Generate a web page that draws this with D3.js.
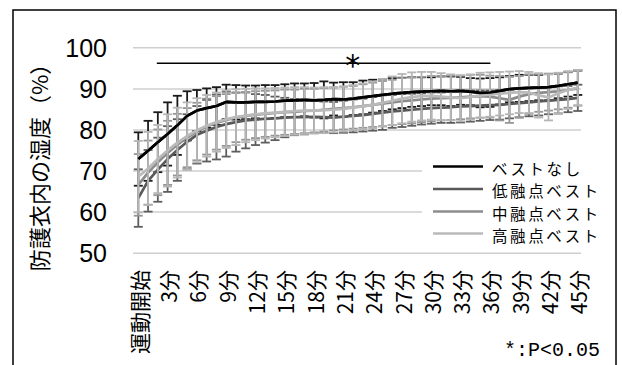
<!DOCTYPE html>
<html><head><meta charset="utf-8">
<script src="https://cdn.jsdelivr.net/npm/d3@7"></script>
<style>body{margin:0;background:#fff;}svg{display:block;}</style>
</head><body>
<svg id="c" width="622" height="365"></svg>
<script>
const minutes = d3.range(0, 46);
const tickMinutes = [0,3,6,9,12,15,18,21,24,27,30,33,36,39,42,45];
const tickLabels = ["運動開始","3分","6分","9分","12分","15分","18分","21分","24分","27分","30分","33分","36分","39分","42分","45分"];
const yTicks = [50,60,70,80,90,100];
const seriesNames = ["ベストなし","低融点ベスト","中融点ベスト","高融点ベスト"];

const noneMean = [72.8,74.8,76.9,78.9,81.0,83.3,84.6,85.2,85.7,86.7,86.6,86.6,86.7,86.7,86.8,87.0,87.1,87.2,87.1,87.2,87.4,87.3,87.5,87.8,88.1,88.4,88.7,88.9,89.1,89.2,89.3,89.4,89.3,89.4,89.2,88.9,89.0,89.4,89.8,90.0,90.1,90.2,90.3,90.6,91.0,91.4];
const lowMean  = [63.3,67.5,70.2,72.8,75.0,77.0,78.7,79.7,80.6,81.3,81.8,82.2,82.4,82.6,82.7,82.9,83.0,83.0,83.1,83.0,82.9,83.1,83.3,83.5,83.8,84.1,84.4,84.6,84.8,85.0,85.2,85.3,85.4,85.6,85.7,85.8,85.9,86.0,86.2,86.4,86.6,86.8,87.0,87.2,87.4,87.7];
const midMean  = [66.5,69.5,72.0,74.3,76.3,78.0,79.5,80.7,81.6,82.3,82.9,83.3,83.6,83.8,84.0,84.2,84.3,84.5,84.6,84.8,85.0,85.2,85.4,85.7,86.0,86.3,86.6,86.9,87.1,87.3,87.5,87.6,87.7,87.8,88.0,88.1,88.0,87.6,87.2,88.0,88.6,88.9,89.1,89.3,89.6,90.0];
const highMean = [68.5,70.5,72.8,74.9,76.8,78.4,79.8,80.9,81.8,82.5,83.0,83.4,83.7,83.9,84.1,84.3,84.5,84.6,84.6,84.7,84.8,85.0,85.3,85.6,86.0,86.5,87.0,87.5,87.9,88.1,88.2,88.0,87.8,87.6,87.9,88.3,88.5,88.7,88.9,89.1,89.0,88.3,87.8,88.8,89.6,90.2];

const noneSD = [6.5,7.3,7.3,7.7,7.2,6.0,5.0,4.8,4.6,4.2,4.2,4.1,4.0,4.1,4.0,4.0,4.1,4.0,4.2,4.5,4.0,4.2,4.0,4.1,4.0,3.9,3.8,3.7,3.6,3.5,3.4,3.5,3.6,3.4,3.3,3.5,3.5,3.3,3.2,3.3,3.2,3.1,3.2,3.0,3.0,3.0];
const lowSD  = [7.0,7.5,7.8,8.0,7.5,6.7,7.0,7.5,7.9,7.9,7.2,6.8,6.2,5.8,5.3,4.8,4.4,4.2,4.0,3.8,3.8,3.9,4.0,4.0,4.1,4.2,4.0,4.0,3.9,3.8,3.8,3.7,3.8,3.9,3.8,3.7,3.6,3.6,3.5,3.5,3.4,3.4,3.3,3.3,3.2,3.2];
const midSD  = [7.5,7.8,8.0,7.8,7.5,7.2,7.0,6.8,6.5,6.3,6.0,5.8,5.7,5.6,5.5,5.5,5.4,5.4,5.3,5.3,5.2,5.2,5.2,5.3,5.4,5.5,5.5,5.6,5.6,5.5,5.5,5.4,5.4,5.3,5.3,5.2,5.1,5.4,5.6,5.0,4.8,4.6,4.5,4.4,4.3,4.2];
const highSD = [8.7,8.9,8.3,8.8,8.5,8.2,7.8,7.5,7.2,7.0,6.8,6.5,6.3,6.1,6.0,5.9,5.8,5.7,5.6,5.6,5.5,5.5,5.5,5.6,5.7,5.8,5.9,6.0,6.0,5.9,5.8,5.7,5.6,5.6,5.5,5.5,5.4,5.3,5.2,5.1,5.0,5.4,5.6,5.0,4.6,4.3];

const sigStart = 2, sigEnd = 36, sigMark = 22;
const noteText = "*:P<0.05";

const colors = ["#000000","#595959","#8c8c8c","#bababa"];
const barColors = ["#1a1a1a","#5e5e5e","#969696","#b6b6b6"];
const series = [
  {name:seriesNames[0], mean:noneMean, sd:noneSD, color:colors[0], bar:barColors[0]},
  {name:seriesNames[1], mean:lowMean, sd:lowSD, color:colors[1], bar:barColors[1]},
  {name:seriesNames[2], mean:midMean, sd:midSD, color:colors[2], bar:barColors[2]},
  {name:seriesNames[3], mean:highMean, sd:highSD, color:colors[3], bar:barColors[3]}
];

const svg = d3.select("#c");
const x = d3.scalePoint().domain(minutes).range([138.3, 577.8]);
const y = d3.scaleLinear().domain([50,100]).range([252.7, 47.3]);
const gridX0 = 133, gridX1 = 581;

// outer frame
svg.append("rect").attr("x",13).attr("y",10).attr("width",603).attr("height",370)
  .attr("fill","#fff").attr("stroke","#000").attr("stroke-width",1.5);

// gridlines
const yAxis = d3.axisLeft(y).tickValues(yTicks).tickSize(-(gridX1-gridX0)).tickFormat(d=>d);
const gy = svg.append("g").attr("transform",`translate(${gridX0},0)`).call(yAxis);
gy.select(".domain").remove();
gy.selectAll(".tick line").attr("stroke","#cfcfcf").attr("stroke-width",1.5);
gy.selectAll(".tick text").attr("x",107-gridX0).attr("dy","0.36em")
  .attr("font-family","'Liberation Sans', Arial, sans-serif").attr("font-size",25).attr("fill","#000");

// y title
svg.append("text").attr("transform","translate(38,162) rotate(-90)")
  .attr("text-anchor","middle").attr("dominant-baseline","central")
  .attr("font-family","'Noto Sans CJK JP', sans-serif").attr("font-size",22).attr("fill","#000")
  .text("防護衣内の湿度（%）");

// x axis labels
const xAxis = d3.axisBottom(x).tickValues(tickMinutes).tickSize(0)
  .tickFormat(d => tickLabels[tickMinutes.indexOf(d)]);
const gx = svg.append("g").attr("transform","translate(0,270)").call(xAxis);
gx.select(".domain").remove();
gx.selectAll(".tick text").attr("transform","rotate(-90)").attr("x",0).attr("y",0).attr("dy",null)
  .attr("text-anchor","end").attr("dominant-baseline","central")
  .attr("font-family","'Liberation Sans Narrow','Noto Sans CJK JP', sans-serif").attr("font-size",21).attr("fill","#000");

// series
const line = d3.line().x((d,i)=>x(minutes[i])).y(d=>y(d));
function drawBars(s){
  const g = svg.append("g").attr("stroke",s.bar).attr("stroke-width",1.8).attr("fill","none");
  minutes.forEach((m,i)=>{
    const cx = x(m), top = y(s.mean[i]+s.sd[i]), bot = y(s.mean[i]-s.sd[i]);
    g.append("line").attr("x1",cx).attr("x2",cx).attr("y1",top).attr("y2",bot);
    g.append("line").attr("x1",cx-4.5).attr("x2",cx+4.5).attr("y1",top).attr("y2",top);
    g.append("line").attr("x1",cx-4.5).attr("x2",cx+4.5).attr("y1",bot).attr("y2",bot);
  });
}
function drawLine(s){
  svg.append("path").datum(s.mean).attr("d",line).attr("fill","none")
    .attr("stroke",s.color).attr("stroke-width",2.7).attr("stroke-linejoin","round");
}
series.forEach(s=>{ drawBars(s); drawLine(s); });
drawLine(series[0]);

// significance
svg.append("line").attr("x1",x(sigStart)-1).attr("x2",x(sigEnd)+0.5).attr("y1",63.3).attr("y2",63.3)
  .attr("stroke","#000").attr("stroke-width",1.5);
svg.append("text").attr("x",x(sigMark)-0.5).attr("y",76).attr("text-anchor","middle")
  .attr("font-family","'DejaVu Sans', sans-serif").attr("font-size",30).text("*");

// legend
svg.append("rect").attr("x",422).attr("y",154).attr("width",192).attr("height",92).attr("fill","#fff");
const legY = [166.5,189,211.5,233.5];
series.forEach((s,i)=>{
  svg.append("line").attr("x1",433).attr("x2",483).attr("y1",legY[i]).attr("y2",legY[i])
    .attr("stroke",s.color).attr("stroke-width",2.7);
  svg.append("text").attr("x",492).attr("y",legY[i]+1).attr("dominant-baseline","central")
    .attr("font-family","'Noto Sans CJK JP', sans-serif").attr("font-size",15.5).attr("letter-spacing","2.6px")
    .attr("fill","#000").text(s.name);
});

// note
svg.append("text").attr("x",600).attr("y",356).attr("text-anchor","end")
  .attr("font-family","'Liberation Mono', monospace").attr("font-size",20).attr("fill","#000").text(noteText);
</script>
</body></html>
